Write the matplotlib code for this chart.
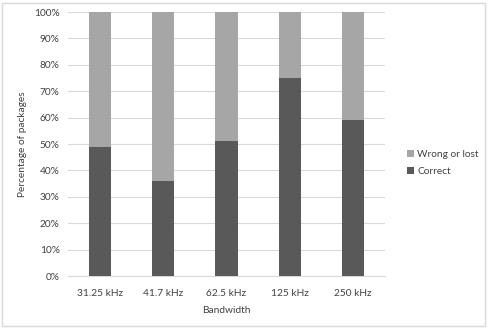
import matplotlib
matplotlib.use("Agg")
import matplotlib.pyplot as plt
from matplotlib.patches import Rectangle
from matplotlib.ticker import PercentFormatter

categories = ["31.25 kHz", "41.7 kHz", "62.5 kHz", "125 kHz", "250 kHz"]
correct = [49, 36, 51, 75, 59]
wrong = [100 - c for c in correct]

plt.rcParams['font.family'] = ['Lato', 'DejaVu Sans']
fig = plt.figure(figsize=(4.88, 3.29), dpi=100)
ax = fig.add_axes([68/488, 1 - 276/329, 317/488, 264/329])

x = range(len(categories))
dark = "#595959"
light = "#a6a6a6"
b1 = ax.bar(x, correct, width=0.35, color=dark, label="Correct", zorder=3)
b2 = ax.bar(x, wrong, width=0.35, bottom=correct, color=light, label="Wrong or lost", zorder=3)

ax.set_ylim(0, 100)
ax.set_xlim(-0.5, len(categories) - 0.5)
ax.set_yticks(range(0, 101, 10))
ax.yaxis.set_major_formatter(PercentFormatter(decimals=0))
ax.set_xticks(list(x))
ax.set_xticklabels(categories)
ax.grid(axis='y', color="#d9d9d9", linewidth=0.8, zorder=0)
for s in ["top", "right", "left"]:
    ax.spines[s].set_visible(False)
ax.spines["bottom"].set_color("#d9d9d9")
ax.tick_params(axis='both', length=0, labelsize=7.3, colors="#404040", pad=6)
ax.tick_params(axis='x', pad=9)
ax.set_xlabel("Bandwidth", fontsize=7.3, color="#404040", labelpad=6)
ax.set_ylabel("Percentage of packages", fontsize=7.3, color="#404040", labelpad=5)

handles = [b2, b1]
fig.legend(handles, ["Wrong or lost", "Correct"], loc="center left",
           bbox_to_anchor=(398/488, 1 - 163/329), frameon=False, fontsize=7.3,
           handlelength=0.7, handleheight=0.7, handletextpad=0.3,
           labelspacing=0.85, labelcolor="#404040")

fig.patches.append(Rectangle((2/488, 3/329), 483/488, 323/329, transform=fig.transFigure,
                             fill=False, edgecolor="#d9d9d9", linewidth=1))

fig.savefig("out.png", dpi=100)
